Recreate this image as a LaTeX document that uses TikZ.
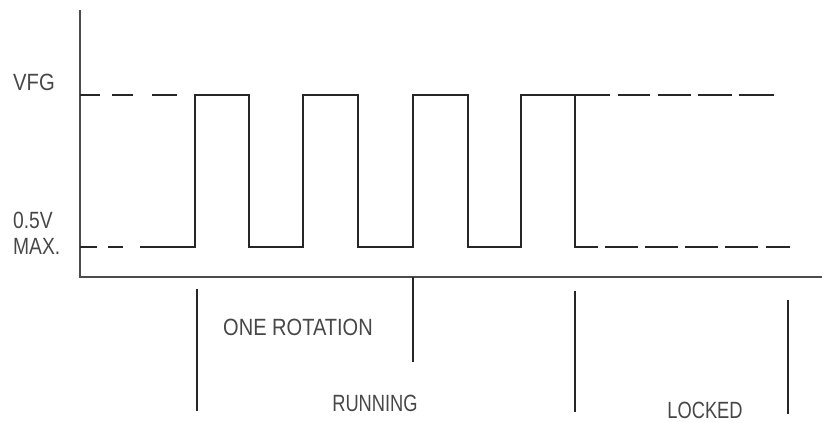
\documentclass[tikz,border=0pt]{standalone}
\usepackage{fontspec}
\setmainfont{Liberation Sans}
\begin{document}
\begin{tikzpicture}[x=1pt,y=-1pt,
  wave/.style={line width=1.2pt,black!85},
  axisline/.style={line width=1.2pt,black!70},
  tick/.style={line width=1.2pt,black!85},
  lbl/.style={font=\fontsize{23.5}{26}\selectfont,text=black!72,inner sep=0pt,xscale=0.82}]
\useasboundingbox (0,0) rectangle (822,423);

% axes
\draw[axisline] (80,10) -- (80,277) -- (822,277);

% reference levels, left side
\foreach \a/\b in {80/100,112/133,152/177}
  \draw[wave] (\a,95) -- (\b,95);
\foreach \a/\b in {80/97,108/123}
  \draw[wave] (\a,247) -- (\b,247);

% pulse train
\draw[wave] (140,247) -- (195,247) -- (195,95) -- (249,95) -- (249,247)
  -- (303,247) -- (303,95) -- (358,95) -- (358,247)
  -- (413,247) -- (413,95) -- (468,95) -- (468,247)
  -- (521,247) -- (521,95) -- (610,95);
\draw[wave] (575,95) -- (575,247) -- (598,247);

% reference levels, right side
\foreach \a/\b in {618/650,658/691,698/732,739/774}
  \draw[wave] (\a,95) -- (\b,95);
\foreach \a/\b in {605/638,645/678,685/718,725/758,766/790}
  \draw[wave] (\a,247) -- (\b,247);

% interval markers
\draw[tick] (197,289) -- (197,411);
\draw[tick] (413,277) -- (413,362);
\draw[tick] (575,291) -- (575,412);
\draw[tick] (788,300) -- (788,414);

% labels
\node[lbl,xscale=1.05] (vfg) at (34,82.5) {VFG};
\node[lbl,anchor=west] (v05) at (13,220.5) {0.5V};
\node[lbl,anchor=west] (vmax) at (13,246.5) {MAX.};
\node[lbl,xscale=1.04] (onerot) at (298,327) {ONE ROTATION};
\node[lbl,xscale=0.95] (run) at (375,403) {RUNNING};
\node[lbl,xscale=0.95] (lock) at (705,410) {LOCKED};
\end{tikzpicture}
\end{document}
